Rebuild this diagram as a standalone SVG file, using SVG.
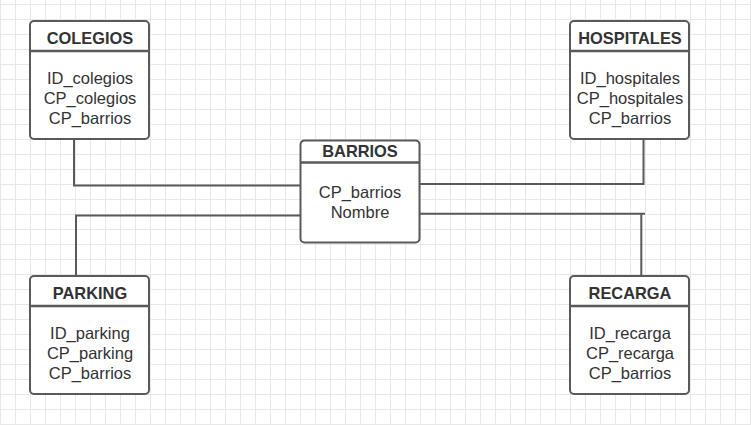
<svg xmlns="http://www.w3.org/2000/svg" width="751" height="425" viewBox="0 0 751 425">
<defs>
<pattern id="grid" x="0" y="4" width="15" height="15" patternUnits="userSpaceOnUse">
<path d="M0.5 0V15M0 0.5H15" fill="none" stroke="#e8e8e8" stroke-width="1"/>
</pattern>
</defs>
<style>
.box{fill:#fff;stroke:#5a5a5a;stroke-width:2}
.hdr{stroke:#5a5a5a;stroke-width:2.4}
.title{font-family:"Liberation Sans",Arial,sans-serif;font-weight:bold;font-size:16.4px;fill:#333;text-anchor:middle}
.attr{font-family:"Liberation Sans",Arial,sans-serif;font-size:16.5px;fill:#333;text-anchor:middle}
.conn{fill:none;stroke:#5a5a5a;stroke-width:2}
</style>
<rect x="0" y="0" width="751" height="425" fill="#fff"/>
<rect x="0" y="0" width="751" height="425" fill="url(#grid)"/>
<g id="connectors">
<path class="conn" d="M74 139V185.5H300"/>
<path class="conn" d="M300 215.5H76V276"/>
<path class="conn" d="M643.5 139V184H420"/>
<path class="conn" d="M420 213.8H645"/>
<path class="conn" d="M641.3 213.8V276"/>
</g>
<g id="colegios">
<rect class="box" x="30" y="21" width="119" height="118" rx="4"/>
<line class="hdr" x1="30" y1="51" x2="149" y2="51"/>
<text class="title" x="90" y="44.3">COLEGIOS</text>
<text class="attr" x="90" y="84">ID_colegios</text>
<text class="attr" x="90" y="104">CP_colegios</text>
<text class="attr" x="90" y="124">CP_barrios</text>
</g>
<g id="hospitales">
<rect class="box" x="570" y="21" width="119" height="118" rx="4"/>
<line class="hdr" x1="570" y1="51" x2="689" y2="51"/>
<text class="title" x="630" y="44.3">HOSPITALES</text>
<text class="attr" x="630" y="84">ID_hospitales</text>
<text class="attr" x="630" y="104">CP_hospitales</text>
<text class="attr" x="630" y="124">CP_barrios</text>
</g>
<g id="barrios">
<rect class="box" x="300.5" y="140.5" width="119" height="102" rx="4"/>
<line class="hdr" x1="300.5" y1="162.5" x2="419.5" y2="162.5"/>
<text class="title" x="360" y="157.3">BARRIOS</text>
<text class="attr" x="360" y="197.5">CP_barrios</text>
<text class="attr" x="360" y="217.5">Nombre</text>
</g>
<g id="parking">
<rect class="box" x="30" y="276" width="119" height="118" rx="4"/>
<line class="hdr" x1="30" y1="306" x2="149" y2="306"/>
<text class="title" x="90" y="299.3">PARKING</text>
<text class="attr" x="90" y="339">ID_parking</text>
<text class="attr" x="90" y="359">CP_parking</text>
<text class="attr" x="90" y="379">CP_barrios</text>
</g>
<g id="recarga">
<rect class="box" x="570" y="276" width="119" height="118" rx="4"/>
<line class="hdr" x1="570" y1="306" x2="689" y2="306"/>
<text class="title" x="630" y="299.3">RECARGA</text>
<text class="attr" x="630" y="339">ID_recarga</text>
<text class="attr" x="630" y="359">CP_recarga</text>
<text class="attr" x="630" y="379">CP_barrios</text>
</g>
</svg>
